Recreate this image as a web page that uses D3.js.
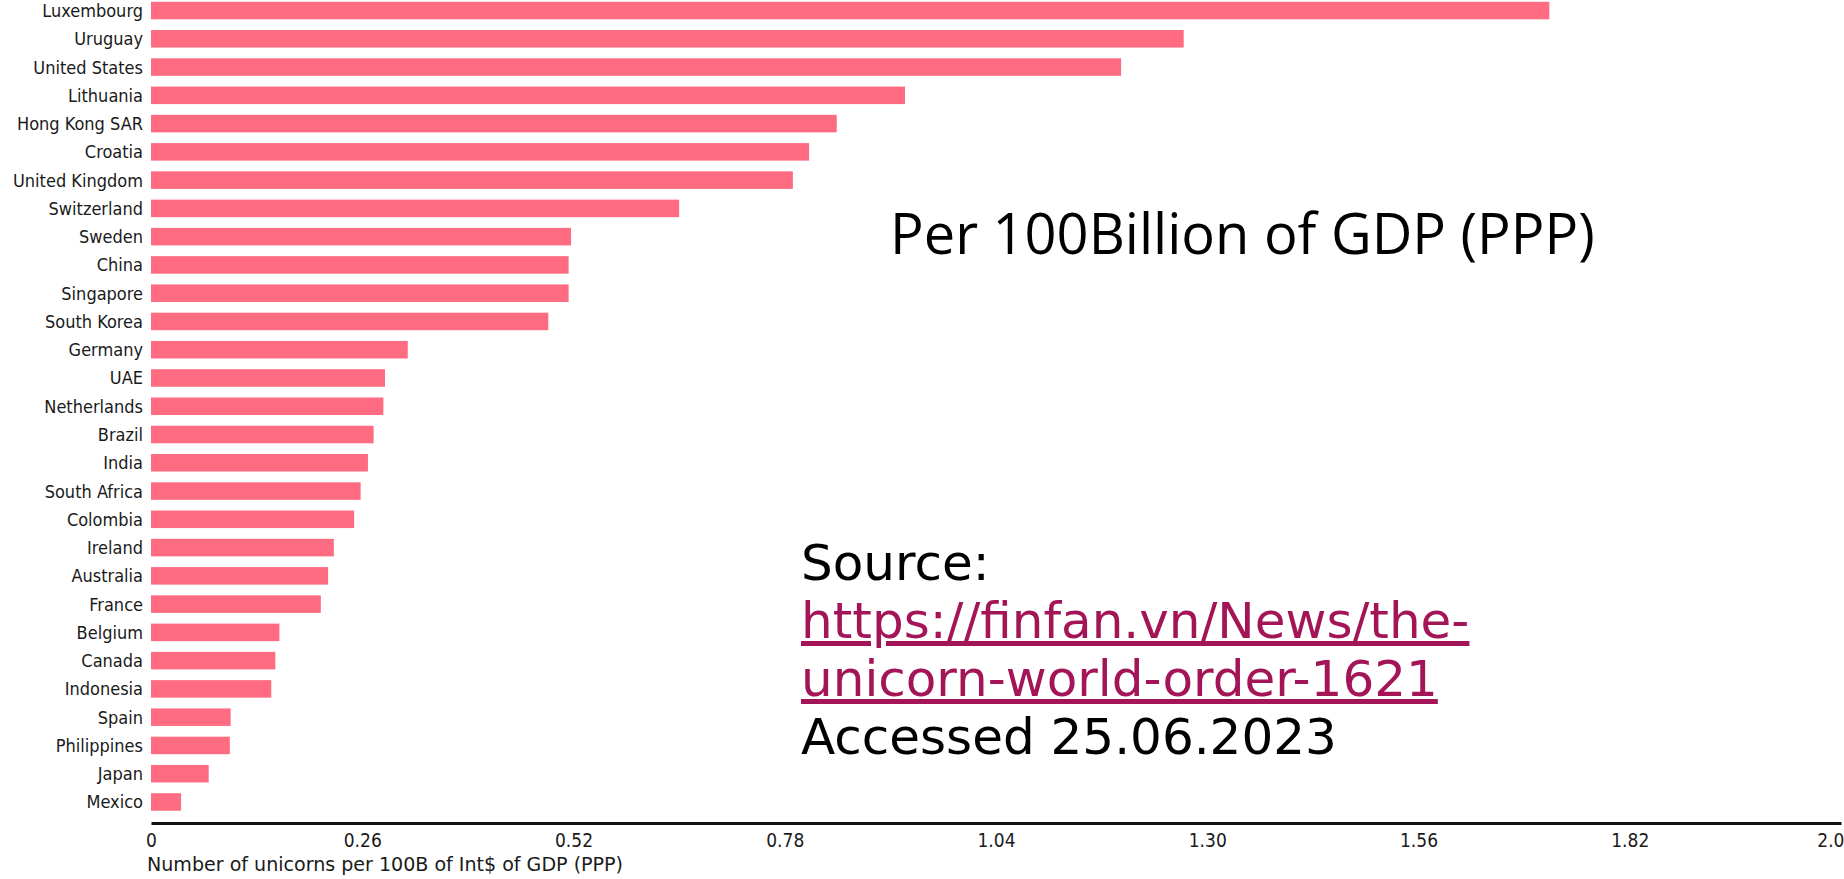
<!DOCTYPE html>
<html>
<head>
<meta charset="utf-8">
<script src="https://cdn.jsdelivr.net/npm/d3@7"></script>
<style>
  html, body { margin: 0; padding: 0; background: #fff; overflow: hidden; }
  #chart { width: 1844px; height: 879px; }
</style>
</head>
<body>
<div id="chart"></div>
<script>
// unicorns per 100B Int$ of GDP (PPP)
const countries = [
  "Luxembourg", "Uruguay", "United States", "Lithuania", "Hong Kong SAR",
  "Croatia", "United Kingdom", "Switzerland", "Sweden", "China",
  "Singapore", "South Korea", "Germany", "UAE", "Netherlands",
  "Brazil", "India", "South Africa", "Colombia", "Ireland",
  "Australia", "France", "Belgium", "Canada", "Indonesia",
  "Spain", "Philippines", "Japan", "Mexico"
];
const values = [
  1.721, 1.271, 1.194, 0.928, 0.844,
  0.810, 0.790, 0.650, 0.517, 0.514,
  0.514, 0.489, 0.316, 0.288, 0.286,
  0.274, 0.267, 0.258, 0.250, 0.225,
  0.218, 0.209, 0.158, 0.153, 0.148,
  0.098, 0.097, 0.071, 0.037
];
const tickVals   = [0, 0.26, 0.52, 0.78, 1.04, 1.30, 1.56, 1.82, 2.08];
const tickLabels = ["0", "0.26", "0.52", "0.78", "1.04", "1.30", "1.56", "1.82", "2.0"];

const axisTitle = "Number of unicorns per 100B of Int$ of GDP (PPP)";
const noteTitle = "Per 100Billion of GDP (PPP)";
const sourceLines = [
  { text: "Source:", link: false },
  { text: "https://finfan.vn/News/the-", link: true },
  { text: "unicorn-world-order-1621", link: true },
  { text: "Accessed 25.06.2023", link: false }
];

const data = countries.map((c, i) => ({ country: c, value: values[i] }));

/* ---------- layout ---------- */
const width = 1844, height = 879;
const axisY = 823;
const labelFont = "'DejaVu Sans Condensed', 'Liberation Sans Narrow', Roboto, sans-serif";

const x = d3.scaleLinear()
  .domain([0, 2.08])
  .range([151, 1841]);

const y = d3.scaleBand()
  .domain(countries)
  .range([-3.6, 816.1])
  .paddingInner(0.38)
  .paddingOuter(0.19);

const svg = d3.select("#chart").append("svg")
  .attr("width", width)
  .attr("height", height);

// bars
svg.append("g").selectAll("rect")
  .data(data).join("rect")
  .attr("x", x(0))
  .attr("y", d => y(d.country))
  .attr("width", d => x(d.value) - x(0))
  .attr("height", y.bandwidth())
  .attr("fill", "#ff6b80");

// country labels
svg.append("g").selectAll("text")
  .data(data).join("text")
  .attr("x", x(0) - 8)
  .attr("y", d => y(d.country) + y.bandwidth() / 2)
  .attr("dy", "0.36em")
  .attr("text-anchor", "end")
  .attr("font-family", labelFont)
  .attr("font-size", 18)
  .attr("fill", "#1a1a1a")
  .text(d => d.country);

// x axis
const gx = svg.append("g")
  .attr("transform", `translate(0,${axisY})`)
  .call(d3.axisBottom(x)
    .tickValues(tickVals)
    .tickFormat((d, i) => tickLabels[i])
    .tickSize(0)
    .tickPadding(10.5));

gx.select(".domain")
  .attr("stroke", "#111")
  .attr("stroke-width", 3);

gx.selectAll(".tick text")
  .attr("font-family", labelFont)
  .attr("font-size", 19)
  .attr("fill", "#1a1a1a")
  .attr("text-anchor", (d, i) => i === tickVals.length - 1 ? "end" : "middle")
  .attr("dx", (d, i) => i === tickVals.length - 1 ? 3 : 0);

svg.append("text")
  .attr("x", 147)
  .attr("y", 871)
  .attr("font-family", labelFont)
  .attr("font-size", 19.5)
  .attr("fill", "#1a1a1a")
  .attr("textLength", 476)
  .attr("lengthAdjust", "spacingAndGlyphs")
  .text(axisTitle);

// annotation on the right
svg.append("text")
  .attr("x", 890)
  .attr("y", 254)
  .attr("font-family", "'Open Sans', sans-serif")
  .attr("font-size", 56)
  .attr("fill", "#000")
  .text(noteTitle);

const src = svg.append("g");
src.selectAll("text")
  .data(sourceLines).join("text")
  .attr("x", 801)
  .attr("y", (d, i) => 580 + i * 58)
  .attr("font-family", "'DejaVu Sans', sans-serif")
  .attr("font-size", 50)
  .attr("fill", d => d.link ? "#a31556" : "#000")
  .attr("text-decoration", d => d.link ? "underline" : null)
  .text(d => d.text);
</script>
</body>
</html>
